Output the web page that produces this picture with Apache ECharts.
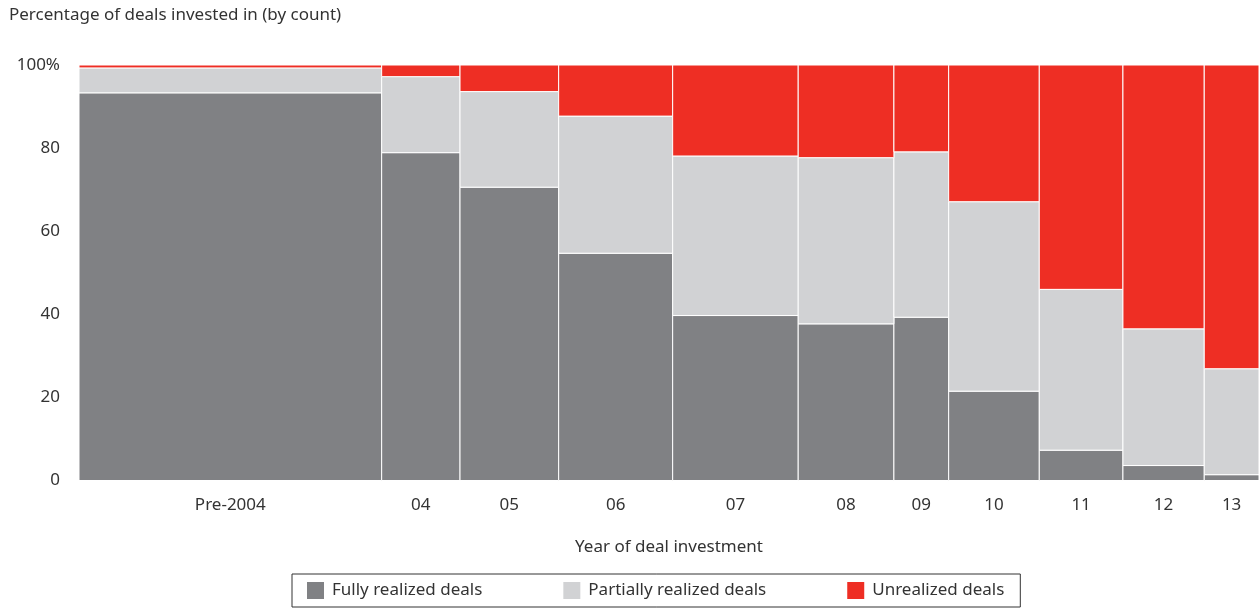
<!DOCTYPE html>
<html>
<head>
<meta charset="utf-8">
<script src="https://cdn.jsdelivr.net/npm/echarts@6/dist/echarts.min.js"></script>
<style>
html,body{margin:0;padding:0;background:#fff;}
#chart{width:1259px;height:608px;}
</style>
</head>
<body>
<div id="chart"></div>
<script>
// Data
var categories = ['Pre-2004','04','05','06','07','08','09','10','11','12','13'];
// share of all deals (column widths, %)
var dealShare = [25.65, 6.64, 8.36, 9.66, 10.64, 8.11, 4.64, 7.68, 7.09, 6.89, 4.64];
var fullyRealized     = [93.3, 78.9, 70.6, 54.7, 39.7, 37.7, 39.3, 21.5, 7.3, 3.6, 1.4];
var partiallyRealized = [6.0, 18.3, 23.0, 33.0, 38.4, 40.0, 39.8, 45.6, 38.7, 32.9, 25.5];
var unrealized        = [0.7, 2.8, 6.4, 12.3, 21.9, 22.3, 20.9, 32.9, 54.0, 63.5, 73.1];
var yTicks = [0, 20, 40, 60, 80, 100];
var seriesNames = ['Fully realized deals','Partially realized deals','Unrealized deals'];
var colors = ['#808184','#d1d2d4','#ee2e24'];

var total = dealShare.reduce(function(a,b){return a+b;},0);
var starts = [], centers = [];
var acc = 0;
dealShare.forEach(function(w){ starts.push(acc); centers.push(acc + w/2); acc += w; });

var stacks = [fullyRealized, partiallyRealized, unrealized];
function buildData(k){
  return categories.map(function(c,i){
    var low = 0;
    for (var j=0;j<k;j++) low += stacks[j][i];
    var high = low + stacks[k][i];
    if (k === 2) high = 100;
    return [starts[i], starts[i]+dealShare[i], low, high, c];
  });
}
function renderItem(params, api){
  var p1 = api.coord([api.value(0), api.value(3)]);
  var p2 = api.coord([api.value(1), api.value(2)]);
  return {
    type: 'rect',
    shape: {x: p1[0], y: p1[1], width: p2[0]-p1[0], height: p2[1]-p1[1]},
    style: {fill: api.visual('color'), stroke: '#ffffff', lineWidth: 1}
  };
}

var font = '"Noto Sans", Lato, sans-serif';
var chart = echarts.init(document.getElementById('chart'));
chart.setOption({
  animation: false,
  color: colors,
  title: {
    text: 'Percentage of deals invested in (by count)',
    left: 4, top: 2,
    textStyle: {fontFamily: font, fontSize: 17, fontWeight: 'normal', color: '#333'}
  },
  grid: {left: 79, right: 0, top: 65, bottom: 127.5},
  xAxis: {
    type: 'value', min: 0, max: total,
    name: 'Year of deal investment', nameLocation: 'middle', nameGap: 58,
    nameMoveOverlap: false,
    nameTextStyle: {fontFamily: font, fontSize: 17, color: '#333'},
    axisLine: {show: false}, axisTick: {show: false}, splitLine: {show: false},
    axisLabel: {
      customValues: centers,
      margin: 16,
      fontFamily: font, fontSize: 17, color: '#333',
      formatter: function(v){
        var best = 0, d = Infinity;
        centers.forEach(function(c,i){ var dd = Math.abs(c-v); if (dd<d){d=dd;best=i;} });
        return categories[best];
      }
    }
  },
  yAxis: {
    type: 'value', min: 0, max: 100, interval: 20,
    axisLine: {show: false}, axisTick: {show: false}, splitLine: {show: false},
    axisLabel: {
      margin: 19, fontFamily: font, fontSize: 17, color: '#333',
      formatter: function(v){ return v === 100 ? '100%' : String(v); }
    }
  },
  legend: {
    data: seriesNames,
    bottom: 1, left: 292,
    itemWidth: 17, itemHeight: 17, itemGap: 81,
    borderColor: '#333', borderWidth: 1,
    padding: [8, 16, 8, 15],
    icon: 'rect',
    formatter: function(n){ return '{t|' + n + '}'; },
    textStyle: {
      fontFamily: font, fontSize: 17, color: '#333',
      rich: {t: {fontFamily: font, fontSize: 17, color: '#333', padding: [0,0,0,3]}}
    }
  },
  series: seriesNames.map(function(n,k){
    return {
      type: 'custom', name: n,
      renderItem: renderItem,
      encode: {x: [0,1], y: [2,3]},
      data: buildData(k)
    };
  })
});
</script>
</body>
</html>
